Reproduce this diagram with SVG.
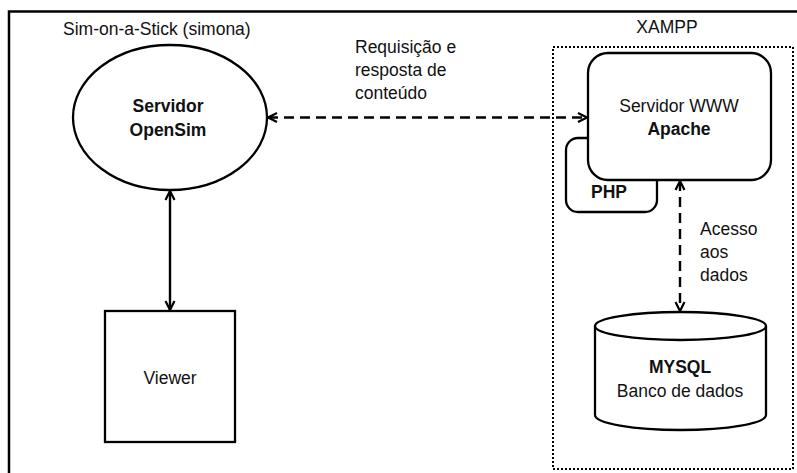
<svg xmlns="http://www.w3.org/2000/svg" width="797" height="473" viewBox="0 0 797 473">
  <defs>
    <style>
      text { font-family: "Liberation Sans", Arial, sans-serif; font-size: 17.5px; fill: #111; }
      .b { font-weight: bold; }
      .c { text-anchor: middle; }
      .shape { fill: #fff; stroke: #000; stroke-width: 2.3; }
      .line { fill: none; stroke: #000; stroke-width: 2.4; }
      .dash { stroke-dasharray: 10 6; }
    </style>
    <marker id="arr" viewBox="0 0 12 12" refX="11" refY="6" markerWidth="12" markerHeight="12" markerUnits="userSpaceOnUse" orient="auto-start-reverse">
      <path d="M2,1.5 L11,6 L2,10.5" fill="none" stroke="#000" stroke-width="2.2"/>
    </marker>
  </defs>
  <rect width="797" height="473" fill="#fff"/>
  <!-- outer frame -->
  <path d="M9,473 V11.5 H797" fill="none" stroke="#000" stroke-width="2.5"/>

  <g id="xampp">
    <rect x="553" y="47" width="240" height="422" fill="none" stroke="#000" stroke-width="2" stroke-dasharray="2 2"/>
    <text x="667" y="33" class="c">XAMPP</text>
  </g>

  <g id="simona-label">
    <text x="63" y="35">Sim-on-a-Stick (simona)</text>
  </g>

  <g id="opensim">
    <ellipse cx="170" cy="117.5" rx="97" ry="72.5" class="shape"/>
    <text x="168" y="112" class="c b">Servidor</text>
    <text x="168" y="136" class="c b">OpenSim</text>
  </g>

  <g id="viewer">
    <rect x="105" y="311" width="130" height="131" class="shape"/>
    <text x="170" y="384" class="c">Viewer</text>
  </g>

  <g id="php">
    <rect x="566" y="138" width="91" height="74" rx="12" class="shape"/>
    <text x="609" y="198" class="c b">PHP</text>
  </g>

  <g id="apache">
    <rect x="588" y="53" width="183" height="127" rx="20" class="shape"/>
    <text x="679" y="112" class="c">Servidor WWW</text>
    <text x="679" y="135" class="c b">Apache</text>
  </g>

  <g id="mysql">
    <path d="M595,326 V415 A85.5,15 0 0 0 766,415 V326" class="shape"/>
    <ellipse cx="680.5" cy="326" rx="85.5" ry="14" class="shape"/>
    <text x="680" y="373" class="c b">MYSQL</text>
    <text x="680" y="397" class="c">Banco de dados</text>
  </g>

  <g id="connectors">
    <line x1="268" y1="117.5" x2="587" y2="117.5" class="line dash" marker-start="url(#arr)" marker-end="url(#arr)"/>
    <line x1="170" y1="191" x2="170" y2="310" class="line" marker-start="url(#arr)" marker-end="url(#arr)"/>
    <line x1="680" y1="181" x2="680" y2="311" class="line dash" marker-start="url(#arr)" marker-end="url(#arr)"/>
  </g>

  <g id="labels">
    <text x="355" y="53">Requisição e</text>
    <text x="355" y="76">resposta de</text>
    <text x="355" y="99">conteúdo</text>
    <text x="700" y="235">Acesso</text>
    <text x="700" y="258">aos</text>
    <text x="700" y="281">dados</text>
  </g>
</svg>
